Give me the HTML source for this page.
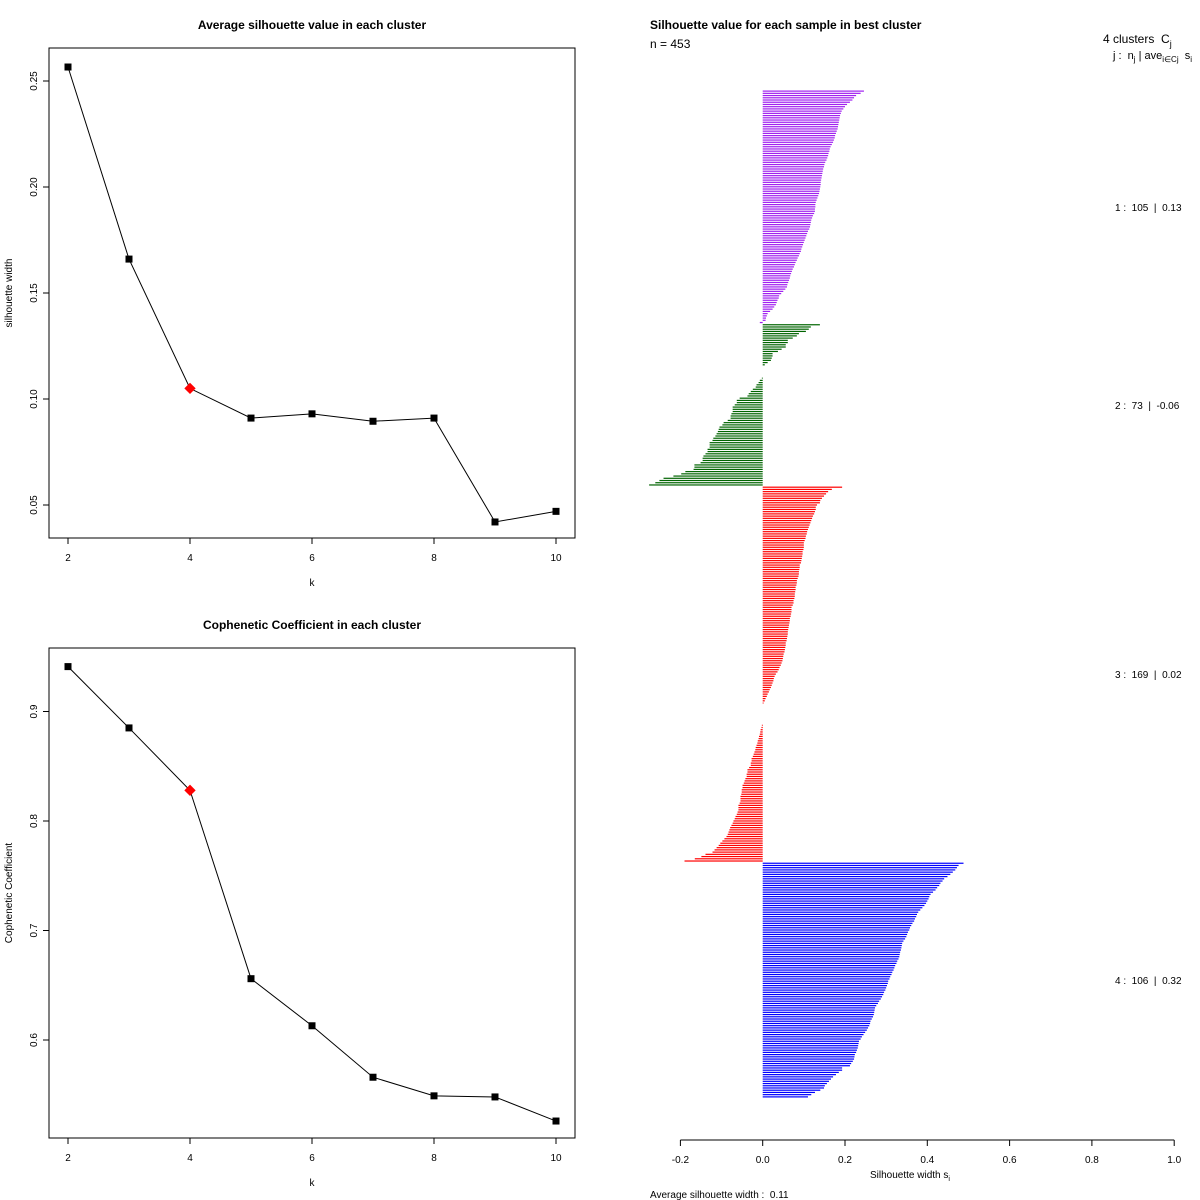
<!DOCTYPE html>
<html><head><meta charset="utf-8"><style>
body{margin:0;background:#fff;}
svg{display:block;font-family:"Liberation Sans",sans-serif;}
.pre{white-space:pre;}
</style></head><body>
<svg id="s" width="1200" height="1200" viewBox="0 0 1200 1200" xmlns="http://www.w3.org/2000/svg">
<rect width="1200" height="1200" fill="#fff"/>
<g id="p1">
<text x="312" y="29" font-size="12" font-weight="bold" text-anchor="middle">Average silhouette value in each cluster</text>
<rect x="49" y="48" width="526" height="490" fill="none" stroke="#000"/>
<text x="312" y="586" font-size="10" text-anchor="middle">k</text>
<text transform="translate(12,293) rotate(-90)" font-size="10" text-anchor="middle">silhouette width</text>
</g>
<g id="p2">
<text x="312" y="629" font-size="12" font-weight="bold" text-anchor="middle">Cophenetic Coefficient in each cluster</text>
<rect x="49" y="648" width="526" height="490" fill="none" stroke="#000"/>
<text x="312" y="1186" font-size="10" text-anchor="middle">k</text>
<text transform="translate(12,893) rotate(-90)" font-size="10" text-anchor="middle">Cophenetic Coefficient</text>
</g>
<g id="p3">
<text x="650" y="29" font-size="12" font-weight="bold">Silhouette value for each sample in best cluster</text>
<text x="650" y="48" font-size="12">n = 453</text>
<text x="1103" y="43" font-size="12" class="pre">4 clusters  C<tspan font-size="9" dy="4">j</tspan></text>
<text x="1113" y="59" font-size="11" class="pre">j :  n<tspan font-size="8" dy="3">j</tspan><tspan dy="-3"> | ave</tspan><tspan font-size="8" dy="3">i∈Cj</tspan><tspan dy="-3">  s</tspan><tspan font-size="8" dy="3">i</tspan></text>
<text x="870" y="1178" font-size="10">Silhouette width s<tspan font-size="7" dy="3">i</tspan></text>
<text x="650" y="1198" font-size="10" class="pre">Average silhouette width :  0.11</text>
</g>
<script>
var kValues=[2,3,4,5,6,7,8,9,10];
var silWidth=[0.2566,0.166,0.105,0.091,0.093,0.0895,0.091,0.042,0.047];
var silTicks=[0.05,0.10,0.15,0.20,0.25];
var copheneticValues=[0.941,0.885,0.828,0.656,0.613,0.566,0.549,0.548,0.526];
var copTicks=[0.6,0.7,0.8,0.9];
var kTicks=[2,4,6,8,10];
var bestK=4;
var cluster1=[0.246,0.238,0.227,0.222,0.218,0.212,0.205,0.2,0.196,0.192,
0.19,0.188,0.187,0.186,0.185,0.184,0.183,0.182,0.18,0.178,
0.176,0.175,0.173,0.171,0.168,0.165,0.163,0.162,0.16,0.159,
0.157,0.155,0.152,0.15,0.149,0.147,0.146,0.145,0.144,0.143,
0.142,0.141,0.141,0.14,0.139,0.138,0.137,0.135,0.133,0.131,
0.129,0.128,0.128,0.127,0.127,0.125,0.122,0.12,0.118,0.117,
0.116,0.115,0.113,0.11,0.108,0.106,0.104,0.102,0.1,0.098,
0.096,0.094,0.093,0.09,0.088,0.085,0.083,0.08,0.078,0.076,
0.073,0.071,0.069,0.067,0.066,0.064,0.062,0.06,0.059,0.055,
0.05,0.045,0.04,0.039,0.036,0.034,0.032,0.028,0.024,0.018,
0.012,0.01,0.008,0.007,-0.007];
var cluster2=[0.139,0.117,0.112,0.105,0.088,0.083,0.073,0.061,0.061,0.056,
0.056,0.046,0.037,0.024,0.024,0.022,0.02,0.012,0.005,
0,0,0,0,0,
-0.002,-0.007,-0.01,-0.015,-0.017,-0.024,-0.029,-0.034,-0.037,-0.056,
-0.063,-0.063,-0.068,-0.073,-0.073,-0.073,-0.076,-0.078,-0.078,-0.085,
-0.095,-0.098,-0.105,-0.107,-0.109,-0.112,-0.115,-0.12,-0.122,-0.129,
-0.129,-0.129,-0.134,-0.134,-0.139,-0.144,-0.146,-0.146,-0.151,-0.166,
-0.166,-0.168,-0.188,-0.198,-0.217,-0.241,-0.251,-0.261,-0.276];
var cluster3=[0.193,0.168,0.159,0.154,0.149,0.144,0.14,0.139,0.132,0.129,
0.129,0.127,0.125,0.122,0.12,0.118,0.116,0.114,0.112,0.11,
0.108,0.107,0.105,0.104,0.102,0.1,0.1,0.1,0.099,0.097,
0.097,0.096,0.095,0.094,0.093,0.09,0.09,0.089,0.088,0.088,
0.087,0.085,0.083,0.083,0.082,0.08,0.08,0.079,0.078,0.078,
0.077,0.075,0.075,0.073,0.07,0.07,0.07,0.069,0.068,0.066,
0.066,0.065,0.064,0.063,0.062,0.061,0.061,0.06,0.059,0.058,
0.056,0.056,0.055,0.054,0.053,0.051,0.05,0.049,0.048,0.046,
0.044,0.041,0.039,0.036,0.032,0.029,0.027,0.026,0.024,0.022,
0.02,0.017,0.015,0.012,0.01,0.007,0.005,0.002,
0,0,0,0,0,0,0,0,0,
-0.002,-0.003,-0.005,-0.006,-0.007,-0.009,-0.01,-0.012,-0.013,-0.015,
-0.017,-0.018,-0.02,-0.022,-0.024,-0.027,-0.027,-0.029,-0.029,-0.033,
-0.037,-0.037,-0.039,-0.039,-0.042,-0.044,-0.046,-0.049,-0.049,-0.051,
-0.051,-0.052,-0.054,-0.054,-0.054,-0.056,-0.059,-0.059,-0.059,-0.061,
-0.063,-0.066,-0.068,-0.071,-0.073,-0.076,-0.079,-0.081,-0.083,-0.085,
-0.088,-0.093,-0.098,-0.103,-0.107,-0.112,-0.117,-0.122,-0.139,-0.149,
-0.165,-0.19];
var cluster4=[0.488,0.476,0.472,0.468,0.462,0.456,0.449,0.441,0.437,0.432,
0.429,0.424,0.42,0.414,0.408,0.405,0.403,0.4,0.397,0.393,
0.388,0.383,0.378,0.375,0.373,0.37,0.368,0.364,0.361,0.358,
0.356,0.353,0.351,0.349,0.346,0.342,0.339,0.338,0.337,0.336,
0.334,0.333,0.332,0.33,0.327,0.325,0.322,0.32,0.318,0.315,
0.313,0.31,0.308,0.305,0.304,0.302,0.3,0.298,0.295,0.293,
0.29,0.287,0.283,0.28,0.276,0.273,0.272,0.271,0.27,0.268,
0.265,0.262,0.261,0.259,0.256,0.253,0.249,0.245,0.241,0.238,
0.234,0.233,0.232,0.231,0.229,0.227,0.224,0.223,0.222,0.219,
0.215,0.212,0.193,0.193,0.185,0.178,0.171,0.166,0.161,0.156,
0.151,0.149,0.14,0.127,0.118,0.11];
var clusterLabels=["1 :  105  |  0.13","2 :  73  |  -0.06","3 :  169  |  0.02","4 :  106  |  0.32"];
var silXTicks=[-0.2,0,0.2,0.4,0.6,0.8,1.0];
var silXTickLabels=["-0.2","0.0","0.2","0.4","0.6","0.8","1.0"];

var NS="http://www.w3.org/2000/svg";
function mk(parent,tag,attrs){var e=document.createElementNS(NS,tag);for(var k in attrs)e.setAttribute(k,attrs[k]);parent.appendChild(e);return e;}
var kx=function(k){return 68+(k-2)*(556-68)/8;};

function linePanel(g,vals,ticks,ylab,y0v,y0,pxPer,axisY,prefix){
  var yf=function(v){return y0-(v-y0v)*pxPer;};
  ticks.forEach(function(t){
    var y=yf(t);
    var tl=mk(g,'line',{x1:43,x2:49,y1:y,y2:y,stroke:'#000'});
    
    
    var tx=mk(g,'text',{transform:'translate(37,'+y+') rotate(-90)','font-size':10,'text-anchor':'middle'});
    tx.textContent=ylab(t);
    
    
  });
  kTicks.forEach(function(k){
    var x=kx(k);
    var tl=mk(g,'line',{x1:x,x2:x,y1:axisY,y2:axisY+6,stroke:'#000'});
    
    
    var tx=mk(g,'text',{x:x,y:axisY+23,'font-size':10,'text-anchor':'middle'});
    tx.textContent=k;
    
    
  });
  var pts=vals.map(function(v,i){return kx(kValues[i])+','+yf(v);}).join(' ');
  var pl=mk(g,'polyline',{points:pts,fill:'none',stroke:'#000','stroke-width':1});
  
  
  vals.forEach(function(v,i){
    var x=kx(kValues[i]),y=yf(v),m;
    if(kValues[i]===bestK){m=mk(g,'rect',{x:x-4,y:y-4,width:8,height:8,fill:'#f00',transform:'rotate(45 '+x+' '+y+')'});}
    else{m=mk(g,'rect',{x:x-3.5,y:y-3.5,width:7,height:7,fill:'#000'});}
    
    
  });
}
linePanel(document.getElementById('p1'),silWidth,silTicks,function(t){return t.toFixed(2);},0.05,505,2120,538,'silhouette');
linePanel(document.getElementById('p2'),copheneticValues,copTicks,function(t){return t.toFixed(1);},0.6,1040,1095,1138,'cophenetic');

var p3=document.getElementById('p3');
var sx=function(v){return 762.7+v*411.5;};
var clusters=[cluster1,cluster2,cluster3,cluster4];
var colors=['#a020f0','#006400','#ff0000','#0000ff'];
var total=clusters.reduce(function(a,c){return a+c.length;},0);
var topY=90,bottomY=1098,pitch=(bottomY-topY)/total,idx=0;
clusters.forEach(function(c,ci){
  var startIdx=idx;
  c.forEach(function(v){
    var y=topY+idx*pitch+pitch/2;
    var x0=Math.min(sx(0),sx(v)),w=Math.abs(sx(v)-sx(0));
    if(w>0){
      var r=mk(p3,'rect',{x:x0,y:y-0.6,width:w,height:1.2,fill:colors[ci]});
      
      
    }
    idx++;
  });
  var midY=topY+(startIdx+idx)/2*pitch+4;
  var lt=mk(p3,'text',{x:1115,y:midY,'font-size':10,'class':'pre'});
  lt.textContent=clusterLabels[ci];
  
  
});
var ax=mk(p3,'line',{x1:sx(-0.2),x2:sx(1.0),y1:1140,y2:1140,stroke:'#000'});


silXTicks.forEach(function(t,i){
  var x=sx(t);
  var tl=mk(p3,'line',{x1:x,x2:x,y1:1140,y2:1146,stroke:'#000'});
  
  
  var tx=mk(p3,'text',{x:x,y:1163,'font-size':10,'text-anchor':'middle'});
  tx.textContent=silXTickLabels[i];
  
  
});
</script>
</svg>
</body></html>
